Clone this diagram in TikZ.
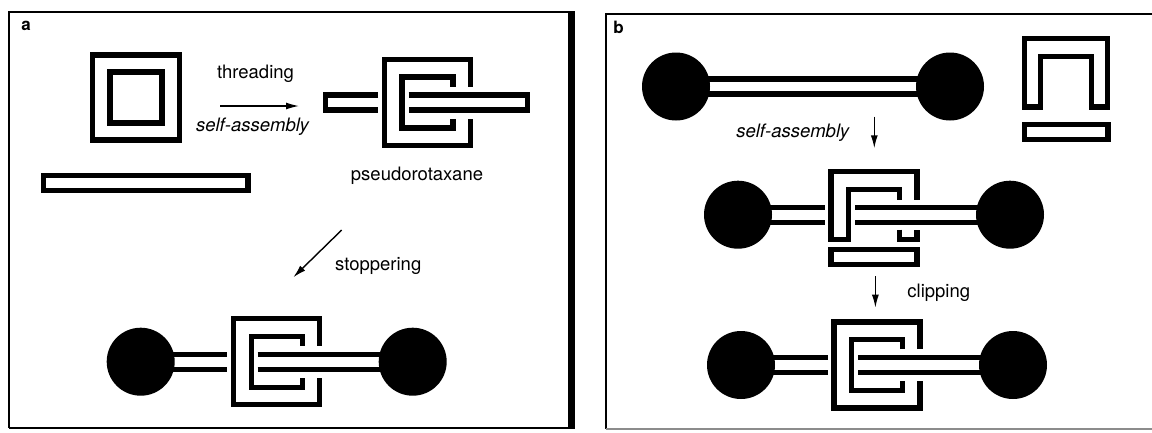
\documentclass[tikz,border=0pt]{standalone}
\usepackage{fontspec}
\setmainfont{TeX Gyre Heros}
\usetikzlibrary{arrows.meta}
\newcommand{\ringthr}{%
  \draw[band] (43,-16) -- (43,-43) -- (-43,-43) -- (-43,43) -- (43,43) -- (43,16);
  \draw[band] (25.5,-16) -- (25.5,-25.5) -- (-25.5,-25.5) -- (-25.5,25.5) -- (25.5,25.5) -- (25.5,16);}
\newcommand{\rodballs}{%
  \draw[band] (-136,-7.5) -- (-49.5,-7.5) (-136,7.5) -- (-49.5,7.5)
              (-19,-7.5) -- (136,-7.5) (-19,7.5) -- (136,7.5);
  \fill (-136,0) circle[radius=34];
  \fill (136,0) circle[radius=34];}
\begin{document}
\begin{tikzpicture}[x=1pt,y=-1pt,
  band/.style={line width=5.3pt, line join=miter, line cap=butt},
  arr/.style={line width=1.4pt, -{Latex[length=13pt,width=7pt]}},
  lbl/.style={font=\fontsize{18.5}{20}\selectfont, inner sep=0pt},
  ilbl/.style={font=\fontsize{18.5}{20}\selectfont\itshape, inner sep=0pt},
  plbl/.style={font=\fontsize{17}{18}\selectfont\bfseries, inner sep=0pt}]
\useasboundingbox (0,0) rectangle (1152,432);
% frames
\draw[line width=2pt] (571,12) -- (9,12) -- (9,428);
\draw[line width=2.5pt] (9,428) -- (571,428);
\draw[line width=7pt] (571.5,11) -- (571.5,429.2);
\draw[line width=2pt] (1153,14) -- (605.5,14) -- (605.5,429);
\draw[line width=1.2pt, black!45] (605.5,429) -- (1153,429);
\node[plbl, anchor=base] (la) at (26,30) {a};
\node[plbl, anchor=base] (lb) at (618.5,33) {b};
% panel a: free ring and rod
\begin{scope}[shift={(136,97.5)}]
  \draw[band] (-43.5,-42.5) rectangle (43.5,42.5);
  \draw[band] (-26,-25.5) rectangle (26,25.5);
\end{scope}
\draw[band] (43.5,175.5) rectangle (248,190.5);
% pseudorotaxane
\begin{scope}[shift={(427.5,102.5)}]
  \draw[band] (-49.5,-7.5) -- (-102,-7.5) -- (-102,7.5) -- (-49.5,7.5);
  \ringthr
  \draw[band] (-19,-7.5) -- (100,-7.5) -- (100,7.5) -- (-19,7.5);
\end{scope}
% rotaxane a
\begin{scope}[shift={(276.7,361.7)}]
  \ringthr
  \rodballs
\end{scope}
% labels and arrows, panel a
\node[lbl, anchor=base] (thr) at (255.5,78) {threading};
\node[ilbl, anchor=base] (sa1) at (252.5,131.5) {self-assembly};
\node[lbl, anchor=base] (pr) at (417,180) {pseudorotaxane};
\node[lbl, anchor=base west] (st) at (335,270) {stoppering};
\coordinate (t1) at (220,106);
\coordinate (t2) at (299,106);
\draw[arr] (t1) -- (t2);
\coordinate (s1) at (341.7,230);
\coordinate (s2) at (293.3,277.3);
\draw[arr] (s1) -- (s2);
% panel b: dumbbell
\begin{scope}[shift={(813,86.5)}]
  \draw[band] (-137,-7.5) -- (137,-7.5) (-137,7.5) -- (137,7.5);
  \fill (-137,0) circle[radius=34];
  \fill (137,0) circle[radius=34];
\end{scope}
% U clip and bar
\begin{scope}[shift={(1066,81.8)}]
  \draw[band] (-41.5,25.3) -- (-41.5,-43) -- (41.5,-43) -- (41.5,25.3) -- (25.5,25.3) -- (25.5,-25.5) -- (-25.5,-25.5) -- (-25.5,25.3) -- cycle;
  \draw[band] (-41.5,42.4) rectangle (42,57.4);
\end{scope}
% middle structure
\begin{scope}[shift={(874,214.7)}]
  \draw[band] (43,-15) -- (43,-43) -- (-43,-43) -- (-43,24.6) -- (-25.5,24.6) -- (-25.5,-25.5) -- (25.5,-25.5) -- (25.5,-15);
  \draw[band] (25.5,15) -- (25.5,24.6) -- (43,24.6) -- (43,15);
  \rodballs
  \draw[band] (-43,35) rectangle (43,50);
\end{scope}
% bottom rotaxane b
\begin{scope}[shift={(877,365)}]
  \ringthr
  \rodballs
\end{scope}
% labels and arrows, panel b
\node[ilbl, anchor=base] (sa2) at (792.7,137) {self-assembly};
\node[lbl, anchor=base] (cl) at (938.8,297) {clipping};
\coordinate (b1) at (874.3,116.7);
\coordinate (b2) at (874.3,148.3);
\draw[arr] (b1) -- (b2);
\coordinate (c1) at (875.4,276);
\coordinate (c2) at (875.4,307.7);
\draw[arr] (c1) -- (c2);
\end{tikzpicture}
\end{document}
